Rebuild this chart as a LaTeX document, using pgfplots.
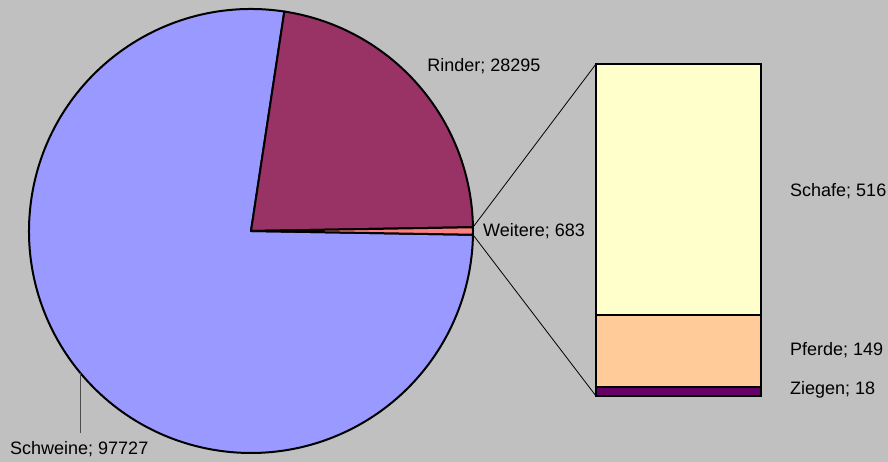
\documentclass[border=0pt]{standalone}
\usepackage{pgfplots}
\pgfplotsset{compat=1.18}
\usepackage{fontspec}
\setmainfont{Liberation Sans}
\definecolor{bg}{HTML}{C0C0C0}
\definecolor{schweine}{HTML}{9999FF}
\definecolor{rinder}{HTML}{993366}
\definecolor{weitere}{HTML}{FF8080}
\definecolor{schafe}{HTML}{FFFFCC}
\definecolor{pferde}{HTML}{FFCC99}
\definecolor{ziegen}{HTML}{660066}
% data
\def\vSchweine{97727}
\def\vRinder{28295}
\def\vWeitere{683}
\def\vSchafe{516}
\def\vPferde{149}
\def\vZiegen{18}
\edef\tot{\fpeval{\vSchweine+\vRinder+\vWeitere}}
\edef\hW{\fpeval{round(\vWeitere/\tot*180,4)}}
\edef\aR{\fpeval{round(\hW+\vRinder/\tot*360,4)}}
\edef\aS{\fpeval{round(360-\hW,4)}}
\begin{document}
\begin{tikzpicture}[font=\fontsize{18}{20}\selectfont]
\useasboundingbox (0,0) rectangle (888pt,462pt);
\fill[bg] (0,0) rectangle (888pt,462pt);
\begin{axis}[at={(0,0)}, anchor=south west, scale only axis, width=888pt, height=462pt,
  xmin=0, xmax=888, ymin=0, ymax=462, hide axis, clip=false]
% connectors
\draw[black, line width=0.8pt] (axis cs:251,231) ++(\hW:222pt) -- (axis cs:596,398);
\draw[black, line width=0.8pt] (axis cs:251,231) ++(-\hW:222pt) -- (axis cs:596,66);
% pie
\filldraw[fill=schweine, draw=black, line width=2pt, line join=round]
  (axis cs:251,231) -- ++(\aR:222pt) arc[start angle=\aR, end angle=\aS, radius=222pt] -- cycle;
\filldraw[fill=rinder, draw=black, line width=2pt, line join=round]
  (axis cs:251,231) -- ++(\hW:222pt) arc[start angle=\hW, end angle=\aR, radius=222pt] -- cycle;
\filldraw[fill=weitere, draw=black, line width=2pt, line join=round]
  (axis cs:251,231) -- ++(-\hW:222pt) arc[start angle=-\hW, end angle=\hW, radius=222pt] -- cycle;
% labels
\node[anchor=center, inner sep=0pt] at (axis cs:484,396) {Rinder; \vRinder};
\node[anchor=west, inner sep=0pt] at (axis cs:483,231) {Weitere; \vWeitere};
\node[anchor=west, inner sep=0pt] at (axis cs:10,13) {Schweine; \vSchweine};
\draw[black!70, line width=0.8pt] (axis cs:80,89) -- (axis cs:80,29);
\node[anchor=west, inner sep=0pt] at (axis cs:790,271) {Schafe; \vSchafe};
\node[anchor=west, inner sep=0pt] at (axis cs:790,112) {Pferde; \vPferde};
\node[anchor=west, inner sep=0pt] at (axis cs:790,72) {Ziegen; \vZiegen};
\end{axis}
\begin{axis}[at={(596pt,66pt)}, anchor=south west, scale only axis, width=165pt, height=332pt,
  xmin=-0.5, xmax=0.5, ymin=0, ymax=683, hide axis, clip=false,
  ybar stacked, bar width=165pt]
\addplot[fill=ziegen, draw=black, line width=2pt] coordinates {(0,\vZiegen)};
\addplot[fill=pferde, draw=black, line width=2pt] coordinates {(0,\vPferde)};
\addplot[fill=schafe, draw=black, line width=2pt] coordinates {(0,\vSchafe)};
\end{axis}
\end{tikzpicture}
\end{document}
